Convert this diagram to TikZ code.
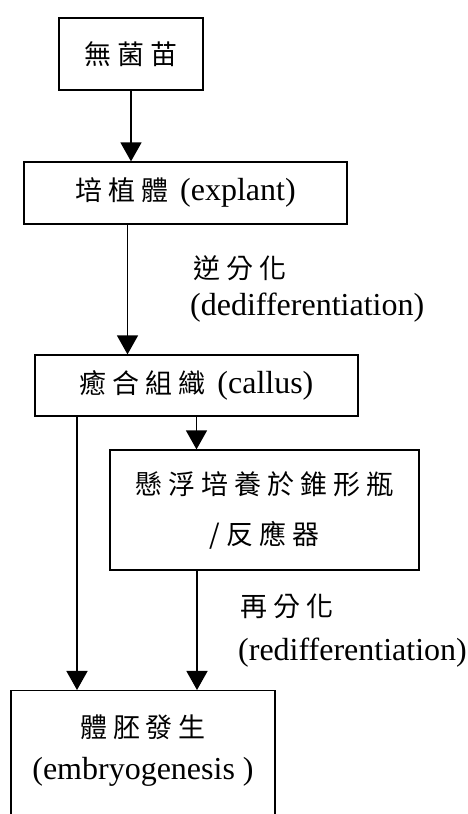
\documentclass[tikz,border=0pt]{standalone}
\usepackage{fontspec}
\setmainfont{Liberation Serif}
\newfontfamily\cjk[LetterSpace=22]{Noto Sans CJK TC}
\usetikzlibrary{arrows.meta}

\newcommand{\zh}[1]{{\cjk\fontsize{27}{32}\selectfont #1}}

\tikzset{
    box/.style={draw, line width=1.2pt, inner sep=0pt},
    flow/.style={-{Triangle[width=21pt,length=19pt]}, line width=1.4pt},
    note/.style={anchor=west, inner sep=0pt},
}

\begin{document}
\begin{tikzpicture}[x=1pt, y=1pt, font=\fontsize{32}{38}\selectfont]
                \useasboundingbox (0,0) rectangle (468,814);
                \clip (0,0) rectangle (468,814);

                \node[box, minimum width=144, minimum height=72] (seed) at (131,760) {\zh{無菌苗}};
                \node[box, minimum width=323, minimum height=62] (explant) at (185.5,621) {\zh{培植體}\hspace{12pt}(explant)};
                \node[box, minimum width=323, minimum height=61] (callus) at (196.5,428.5) {\zh{癒合組織}\hspace{12pt}(callus)};
                \node[box, minimum width=309, minimum height=120, align=center,
                      font=\cjk\fontsize{27}{50}\selectfont] (susp) at (264.5,304) {懸浮培養於錐形瓶\\/反應器};
                \node[box, minimum width=264, minimum height=160, anchor=north] (embryo) at (143,124) {};
                \node[align=center, font=\fontsize{32}{42}\selectfont] (embryotext) at ([yshift=-61pt]embryo.north) {\zh{體胚發生}\\(embryogenesis~)};

                \node[note] (dediff) at (193,546) {\zh{逆分化}};
                \node[note] (dediffen) at (190,506) {(dedifferentiation)};
                \node[note] (rediff) at (240,208) {\zh{再分化}};
                \node[note] (rediffen) at (238,161) {(redifferentiation)};

                \draw[flow] (seed.south) -- (seed.south |- explant.north);
                \draw[flow] ([xshift=-58pt]explant.south) -- ([xshift=-58pt]explant.south |- callus.north);
                \draw[flow] (callus.south) -- (callus.south |- susp.north);
                \draw[flow] ([xshift=-119.5pt]callus.south) -- ([xshift=-119.5pt]callus.south |- embryo.north);
                \draw[flow] ([xshift=-67.5pt]susp.south) -- ([xshift=-67.5pt]susp.south |- embryo.north);
            \end{tikzpicture}
\end{document}
